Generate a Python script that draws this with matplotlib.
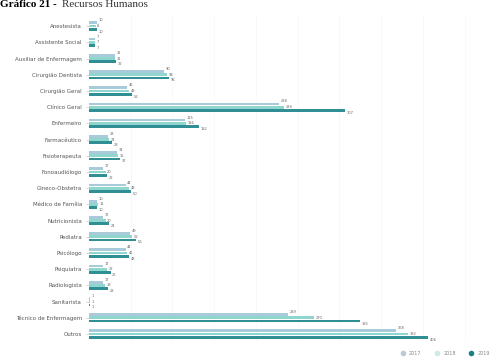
import matplotlib.pyplot as plt
import numpy as np
from matplotlib.lines import Line2D

# =========================
# Dados
# =========================
categorias = [
    "Anestesista", "Assistente Social", "Auxiliar de Enfermagem",
    "Cirurgião Dentista", "Cirurgião Geral", "Clínico Geral", "Enfermeiro",
    "Farmacêutico", "Fisioterapeuta", "Fonoaudiólogo", "Gineco-Obstetra",
    "Médico de Família", "Nutricionista", "Pediatra", "Psicólogo",
    "Psiquiatra", "Radiologista", "Sanitarista", "Técnico de Enfermagem",
    "Outros",
]
anos = ["2017", "2018", "2019"]
v2017 = [10, 7, 31, 90, 46, 228, 115, 23, 34, 17, 44, 10, 17, 49, 44, 17, 17, 1, 239, 368]
v2018 = [8, 7, 31, 94, 48, 234, 116, 24, 35, 20, 48, 11, 20, 52, 46, 22, 19, 1, 270, 382]
v2019 = [10, 7, 32, 96, 52, 307, 132, 28, 37, 22, 50, 10, 24, 56, 48, 26, 23, 1, 325, 406]

cores = ["#a9cbd9", "#8fd6cf", "#2f8f95"]
cores_leg = ["#b9cbd4", "#cfe9e6", "#1f7f86"]

# =========================
# Figura
# =========================
fig = plt.figure(figsize=(5.02, 3.64), dpi=100)
ax = fig.add_axes([0.177, 0.06, 0.76, 0.895])

y = np.arange(len(categorias))
h = 0.17
series = [v2017, v2018, v2019]
for i, vals in enumerate(series):
    pos = y + (i - 1) * (h + 0.03)
    ax.barh(pos, vals, height=h, color=cores[i], zorder=2)
    for p, v in zip(pos, vals):
        ax.text(v + 2, p + (i - 1) * 0.15, str(v), fontsize=2.6, color="#666666",
                va="center", ha="left")

ax.set_yticks(y)
ax.set_yticklabels(categorias, fontsize=4, color="#555555")
ax.set_ylim(len(categorias) - 0.5, -0.6)
ax.set_xlim(0, 457)
ax.set_xticks(np.arange(50, 457, 50))
ax.set_xticklabels([])
ax.tick_params(axis="x", length=0)
ax.tick_params(axis="y", length=2, width=0.4, color="#bbbbbb", pad=3)
ax.grid(axis="x", color="#f8f8f8", linewidth=0.6, zorder=0)
for s in ax.spines.values():
    s.set_visible(False)

# Título
fig.text(0.0, 1 - 7 / 364, "Gráfico 21 -", fontsize=8, family="Liberation Serif",
         fontweight="bold", va="baseline", ha="left")
fig.text(62 / 502, 1 - 7 / 364, "Recursos Humanos", fontsize=8,
         family="Liberation Serif", va="baseline", ha="left", color="#333333")

# Legenda
handles = [Line2D([], [], marker="o", linestyle="", markersize=3,
                  markerfacecolor=c, markeredgecolor=c) for c in cores_leg]
fig.legend(handles, anos, loc="lower right", bbox_to_anchor=(0.985, 0.01),
           ncol=3, fontsize=3.5, frameon=False, handletextpad=0.3,
           columnspacing=2.2, labelcolor="#888888")

fig.savefig("out.png", dpi=100)
